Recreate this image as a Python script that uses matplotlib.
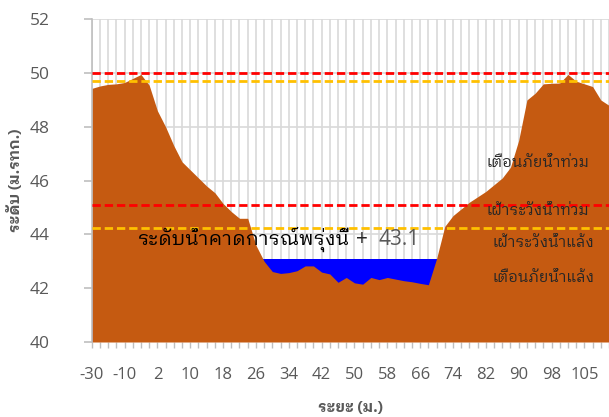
import matplotlib
matplotlib.use('Agg')
import matplotlib.pyplot as plt
from matplotlib import font_manager as fm
from matplotlib.font_manager import FontProperties
import numpy as np

# ---------------- data ----------------
ground = [49.43, 49.52, 49.58, 49.60, 49.65, 49.80, 49.95, 49.55, 48.60, 48.00,
          47.30, 46.70, 46.40, 46.10, 45.80, 45.55, 45.15, 44.85, 44.60, 44.60,
          43.60, 43.00, 42.62, 42.55, 42.58, 42.65, 42.83, 42.83, 42.60, 42.53,
          42.22, 42.40, 42.20, 42.15, 42.40, 42.32, 42.40, 42.34, 42.28, 42.24,
          42.18, 42.13, 43.10, 44.30, 44.70, 44.95, 45.20, 45.40, 45.60, 45.85,
          46.10, 46.50, 47.50, 49.00, 49.25, 49.60, 49.62, 49.63, 49.95, 49.70,
          49.60, 49.50, 49.00, 48.80]
tick_labels = ['-30', '-10', '2', '10', '18', '26', '34', '42', '50', '58',
               '66', '74', '82', '90', '98', '105']
tick_step = 4
water_level = 43.1
flood_warning = 50.0
flood_watch = 45.1
drought_watch_top = 49.7
drought_watch = 44.25


def font_file(keys):
    for key in keys:
        for f in fm.fontManager.ttflist:
            if f.fname.split('/')[-1] == key:
                return f.fname
    return None

reg_path = font_file(['IBMPlexSansThaiLooped-Regular.ttf', 'Loma.ttf', 'Loma.otf'])
bold_path = font_file(['IBMPlexSansThaiLooped-Bold.ttf', 'IBMPlexSansThaiLooped-SemiBold.ttf',
                       'Loma-Bold.ttf', 'Loma-Bold.otf'])


def tf(size, bold=False):
    p = bold_path if bold else reg_path
    if p:
        return FontProperties(fname=p, size=size)
    return FontProperties(family='DejaVu Sans', size=size, weight='bold' if bold else 'normal')

plt.rcParams['font.family'] = ['Open Sans', 'DejaVu Sans']

# -------------- figure --------------
fig = plt.figure(figsize=(6.09, 4.17), dpi=100)
W, H = 609, 417
x0, x1, y0, y1 = 91.7, 609, 19.3, 342.0
ax = fig.add_axes([x0 / W, 1 - y1 / H, (x1 - x0) / W, (y1 - y0) / H])

n = len(ground)
x = np.arange(n)
dx = 8.25
ax.set_xlim(0, (x1 - x0) / dx)
ax.set_ylim(40, 52)

# grid
for xi in x:
    ax.axvline(xi, color='#d9d9d9', lw=1.2, zorder=0)
for yv in range(40, 53, 2):
    ax.axhline(yv, color='#d9d9d9', lw=1.2, zorder=0)

ax.fill_between(x, 40, water_level, color='#0000ff', lw=0, zorder=1)
ax.fill_between(x, 40, ground, color='#c55a11', lw=0, zorder=2)

for lvl, col in [(flood_warning, '#ff0000'), (drought_watch_top, '#ffc000'),
                 (flood_watch, '#ff0000'), (drought_watch, '#ffc000')]:
    ax.axhline(lvl, color=col, lw=2.0, ls=(0, (3, 1.4)), zorder=3)

# axes styling
for s in ['top', 'right', 'bottom']:
    ax.spines[s].set_visible(False)
ax.spines['left'].set_color('#bfbfbf')
ax.spines['left'].set_linewidth(1.2)
ax.set_yticks(range(40, 53, 2))
ax.tick_params(axis='y', length=6, color='#bfbfbf', width=1.2,
               labelsize=12.5, labelcolor='#595959', pad=24)
ax.set_xticks(x, minor=True)
ax.set_xticks(x[::tick_step][:len(tick_labels)])
ax.set_xticklabels(tick_labels)
ax.tick_params(axis='x', which='both', length=4, color='#bfbfbf', width=1.0,
               labelsize=12, labelcolor='#595959', pad=14)

ax.set_ylabel('ระดับ (ม.รทก.)', fontproperties=tf(11, True), color='#595959', labelpad=5)
ax.set_xlabel('ระยะ (ม.)', fontproperties=tf(11, True), color='#595959', labelpad=13)

# annotations
ax.text(5.6, 43.8, 'ระดับน้ำคาดการณ์พรุ่งนี้', fontproperties=tf(14), color='#000000', va='center', ha='left', zorder=4)
ax.text(32.2, 43.8, '+', fontsize=15, color='#262626', va='center', ha='left', zorder=4)
ax.text(34.9, 43.8, '43.1', fontsize=15, color='#595959', va='center', ha='left', zorder=4)

ax.text(54.3, 46.66, 'เตือนภัยน้ำท่วม', fontproperties=tf(11), color='#262626', va='center', ha='center', zorder=4)
ax.text(54.3, 44.87, 'เฝ้าระวังน้ำท่วม', fontproperties=tf(11), color='#262626', va='center', ha='center', zorder=4)
ax.text(55.0, 43.68, 'เฝ้าระวังน้ำแล้ง', fontproperties=tf(11), color='#262626', va='center', ha='center', zorder=4)
ax.text(55.0, 42.38, 'เตือนภัยน้ำแล้ง', fontproperties=tf(11), color='#262626', va='center', ha='center', zorder=4)

fig.savefig('out.png', dpi=100)
